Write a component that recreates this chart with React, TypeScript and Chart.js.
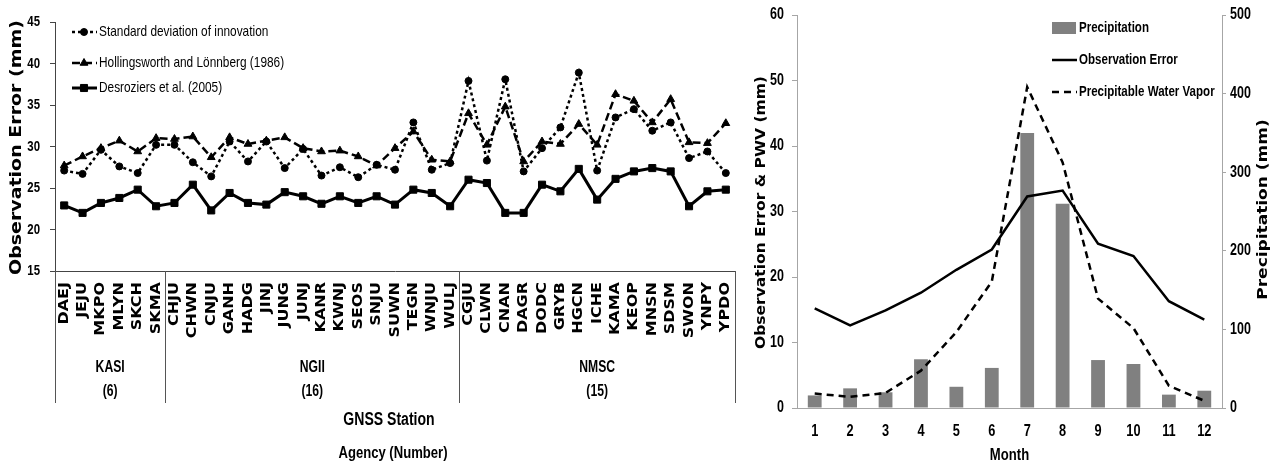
import React, { useEffect, useRef } from 'react';
import { Chart, registerables } from 'chart.js';

Chart.register(...registerables);

// ---------- Left chart data ----------
const stations = [
  'DAEJ', 'JEJU', 'MKPO', 'MLYN', 'SKCH', 'SKMA',
  'CHJU', 'CHWN', 'CNJU', 'GANH', 'HADG', 'JINJ', 'JUNG', 'JUNJ', 'KANR', 'KWNJ', 'SEOS', 'SNJU', 'SUWN', 'TEGN', 'WNJU', 'WULJ',
  'CGJU', 'CLWN', 'CNAN', 'DAGR', 'DODC', 'GRYB', 'HGCN', 'ICHE', 'KAMA', 'KEOP', 'MNSN', 'SDSM', 'SWON', 'YNPY', 'YPDO',
];
const groupNames = ['KASI', 'NGII', 'NMSC'];
const groupCounts = [6, 16, 15];
const stdInnovation = [
  27.1, 26.7, 29.6, 27.6, 26.8, 30.2,
  30.2, 28.1, 26.4, 30.6, 28.2, 30.6, 27.4, 29.7, 26.5, 27.5, 26.3, 27.8, 27.2, 32.9, 27.2, 28.0,
  37.9, 28.3, 38.1, 27.0, 29.8, 32.3, 38.9, 27.1, 33.5, 34.5, 31.9, 32.9, 28.6, 29.4, 26.8,
];
const hollingsworth = [
  27.7, 28.8, 29.8, 30.7, 29.4, 31.0,
  30.9, 31.2, 28.7, 31.1, 30.3, 30.7, 31.1, 29.8, 29.4, 29.5, 28.8, 27.7, 29.8, 31.8, 28.4, 28.2,
  34.0, 30.2, 34.8, 28.2, 30.6, 30.3, 32.7, 30.2, 36.3, 35.5, 32.9, 35.7, 30.5, 30.4, 32.8,
];
const desroziers = [
  22.9, 22.0, 23.2, 23.8, 24.8, 22.8,
  23.2, 25.4, 22.3, 24.4, 23.2, 23.0, 24.5, 24.0, 23.1, 24.0, 23.2, 24.0, 23.0, 24.8, 24.4, 22.8,
  26.0, 25.6, 22.0, 22.0, 25.4, 24.6, 27.3, 23.6, 26.1, 27.0, 27.4, 27.0, 22.8, 24.6, 24.8,
];
const leftSeriesNames = ['Standard deviation of innovation', 'Hollingsworth and Lönnberg (1986)', 'Desroziers et al. (2005)'];

// ---------- Right chart data ----------
const months = ['1', '2', '3', '4', '5', '6', '7', '8', '9', '10', '11', '12'];
const precipitation = [16, 25, 20, 62, 27, 51, 350, 260, 61, 56, 17, 22];
const observationError = [15.2, 12.6, 14.9, 17.6, 21.1, 24.2, 32.3, 33.2, 25.1, 23.2, 16.3, 13.5];
const pwv = [2.2, 1.7, 2.3, 5.7, 11.6, 19.3, 49.0, 37.5, 16.7, 12.2, 3.4, 1.1];

const ARIAL = '"Liberation Sans", Arial, sans-serif';
const WIDE = '"DejaVu Sans", Verdana, sans-serif';

function drawMarker(ctx: CanvasRenderingContext2D, style: string, x: number, y: number, r: number) {
  ctx.beginPath();
  if (style === 'circle') {
    ctx.arc(x, y, r, 0, Math.PI * 2);
  } else if (style === 'triangle') {
    let rad = 0;
    ctx.moveTo(x + Math.sin(rad) * r, y - Math.cos(rad) * r);
    rad += (Math.PI * 2) / 3;
    ctx.lineTo(x + Math.sin(rad) * r, y - Math.cos(rad) * r);
    rad += (Math.PI * 2) / 3;
    ctx.lineTo(x + Math.sin(rad) * r, y - Math.cos(rad) * r);
    ctx.closePath();
  } else {
    const s = r * Math.SQRT1_2;
    ctx.rect(x - s, y - s, 2 * s, 2 * s);
  }
  ctx.fill();
  ctx.stroke();
}

function rotatedText(ctx: CanvasRenderingContext2D, text: string, x: number, y: number, font: string, squeeze: number, align: CanvasTextAlign = 'center') {
  ctx.save();
  ctx.translate(x, y);
  ctx.rotate(-Math.PI / 2);
  ctx.scale(1, squeeze);
  ctx.font = font;
  ctx.textAlign = align;
  ctx.textBaseline = 'middle';
  ctx.fillText(text, 0, 0);
  ctx.restore();
}

function narrowText(ctx: CanvasRenderingContext2D, text: string, x: number, y: number, font: string, align: CanvasTextAlign = 'center', squeeze = 0.82) {
  ctx.save();
  ctx.translate(x, y);
  ctx.scale(squeeze, 1);
  ctx.font = font;
  ctx.textAlign = align;
  ctx.textBaseline = 'middle';
  ctx.fillStyle = '#000';
  ctx.fillText(text, 0, 0);
  ctx.restore();
}

// tick labels drawn from the scale's own ticks, in a condensed face
function drawYTicks(ctx: CanvasRenderingContext2D, scale: any, x: number, align: CanvasTextAlign, font: string, squeeze: number) {
  scale.ticks.forEach((t: any) => {
    narrowText(ctx, String(t.label), x, scale.getPixelForValue(t.value), font, align, squeeze);
  });
}

const leftDecor = {
  id: 'leftDecor',
  afterDraw(chart: any) {
    const { ctx, chartArea } = chart;
    const xs = chart.scales.x;
    const step = xs.getPixelForValue(1) - xs.getPixelForValue(0);
    ctx.save();
    ctx.fillStyle = '#000';
    drawYTicks(ctx, chart.scales.y, chartArea.left - 15, 'right', `bold 15px ${ARIAL}`, 0.76);
    // station labels
    stations.forEach((s, i) => {
      rotatedText(ctx, s, xs.getPixelForValue(i), chartArea.bottom + 11, `bold 16px ${WIDE}`, 0.85, 'right');
    });
    // group dividers & labels
    ctx.strokeStyle = '#555';
    ctx.lineWidth = 1;
    const bottomY = chartArea.bottom + 132;
    const drawV = (px: number) => {
      const xx = Math.round(px) + 0.5;
      ctx.beginPath();
      ctx.moveTo(xx, chartArea.bottom);
      ctx.lineTo(xx, bottomY);
      ctx.stroke();
    };
    drawV(xs.getPixelForValue(0) - step / 2);
    let start = 0;
    groupNames.forEach((g, k) => {
      const end = start + groupCounts[k];
      const left = xs.getPixelForValue(start) - step / 2;
      const right = xs.getPixelForValue(end - 1) + step / 2;
      drawV(right);
      const cx = (left + right) / 2;
      narrowText(ctx, g, cx, chartArea.bottom + 97, `bold 16px ${ARIAL}`, 'center', 0.76);
      narrowText(ctx, `(${groupCounts[k]})`, cx, chartArea.bottom + 121, `bold 16px ${ARIAL}`, 'center', 0.76);
      start = end;
    });
    // axis titles
    narrowText(ctx, 'GNSS Station', 389, 420, `bold 18px ${ARIAL}`, 'center', 0.78);
    narrowText(ctx, 'Agency (Number)', 393, 453, `bold 17px ${ARIAL}`, 'center', 0.77);
    ctx.fillStyle = '#000';
    rotatedText(ctx, 'Observation Error (mm)', 17, (chartArea.top + chartArea.bottom) / 2 + 1, `bold 19px ${WIDE}`, 0.8);
    // legend
    const rows = [32, 63, 88];
    chart.data.datasets.forEach((ds: any, k: number) => {
      const y = rows[k];
      ctx.save();
      ctx.strokeStyle = '#000';
      ctx.lineWidth = ds.borderWidth;
      ctx.setLineDash(ds.borderDash || []);
      ctx.beginPath();
      ctx.moveTo(72, y);
      ctx.lineTo(97, y);
      ctx.stroke();
      ctx.setLineDash([]);
      ctx.fillStyle = '#000';
      ctx.lineWidth = 1;
      drawMarker(ctx, ds.pointStyle, 84, y, ds.pointRadius);
      ctx.restore();
      narrowText(ctx, ds.label, 99, y, `15px ${ARIAL}`, 'left', 0.79);
    });
    ctx.restore();
  },
};

const rightDecor = {
  id: 'rightDecor',
  afterDraw(chart: any) {
    const { ctx, chartArea } = chart;
    const cy = (chartArea.top + chartArea.bottom) / 2;
    ctx.save();
    ctx.fillStyle = '#000';
    const tf = `bold 16px ${ARIAL}`;
    drawYTicks(ctx, chart.scales.y, chartArea.left - 13, 'right', tf, 0.78);
    drawYTicks(ctx, chart.scales.y1, chartArea.right + 8, 'left', tf, 0.78);
    const xs = chart.scales.x;
    xs.ticks.forEach((t: any, i: number) => {
      narrowText(ctx, String(t.label), xs.getPixelForValue(i), chartArea.bottom + 23, `bold 17px ${ARIAL}`, 'center', 0.75);
    });
    narrowText(ctx, 'Month', (chartArea.left + chartArea.right) / 2, 455, `bold 17px ${ARIAL}`, 'center', 0.77);
    ctx.fillStyle = '#000';
    rotatedText(ctx, 'Observation Error & PWV (mm)', 22, cy + 1, `bold 15.5px ${WIDE}`, 0.85);
    rotatedText(ctx, 'Precipitation (mm)', 523, cy - 2, `bold 17px ${WIDE}`, 0.82);
    // legend
    const order = ['Precipitation', 'Observation Error', 'Precipitable Water Vapor'];
    const rows = [28, 60, 92];
    order.forEach((name, k) => {
      const ds = chart.data.datasets.find((d: any) => d.label === name);
      const y = rows[k];
      if (ds.type === 'bar') {
        ctx.fillStyle = ds.backgroundColor;
        ctx.fillRect(312, y - 6, 24, 12);
      } else {
        ctx.save();
        ctx.strokeStyle = ds.borderColor;
        ctx.lineWidth = ds.borderWidth;
        ctx.setLineDash(ds.borderDash || []);
        ctx.beginPath();
        ctx.moveTo(312, y);
        ctx.lineTo(337, y);
        ctx.stroke();
        ctx.restore();
      }
      narrowText(ctx, name, 339, y, `bold 15px ${ARIAL}`, 'left', 0.77);
    });
    ctx.restore();
  },
};

export default function App() {
  const leftRef = useRef<HTMLCanvasElement>(null);
  const rightRef = useRef<HTMLCanvasElement>(null);

  useEffect(() => {
    const left = new Chart(leftRef.current as HTMLCanvasElement, {
      type: 'line',
      data: {
        labels: stations,
        datasets: [
          {
            label: leftSeriesNames[0], data: stdInnovation, borderColor: '#000', backgroundColor: '#000',
            borderWidth: 2.5, borderDash: [3, 3], pointStyle: 'circle', pointRadius: 3.5,
            pointBackgroundColor: '#000', pointBorderColor: '#000', pointBorderWidth: 1, tension: 0,
          },
          {
            label: leftSeriesNames[1], data: hollingsworth, borderColor: '#000', backgroundColor: '#000',
            borderWidth: 2.5, borderDash: [8, 4], pointStyle: 'triangle', pointRadius: 4.5,
            pointBackgroundColor: '#000', pointBorderColor: '#000', pointBorderWidth: 1, tension: 0,
          },
          {
            label: leftSeriesNames[2], data: desroziers, borderColor: '#000', backgroundColor: '#000',
            borderWidth: 3, pointStyle: 'rect', pointRadius: 5,
            pointBackgroundColor: '#000', pointBorderColor: '#000', pointBorderWidth: 1, tension: 0,
          },
        ],
      } as any,
      options: {
        responsive: false,
        animation: false,
        layout: { padding: { top: 22, right: 10, left: 0, bottom: 0 } },
        plugins: { legend: { display: false }, tooltip: { enabled: false } },
        scales: {
          x: {
            type: 'category', offset: true,
            grid: { display: false, drawTicks: false },
            border: { display: true, color: '#444', width: 1 },
            ticks: { display: false },
            afterFit: (s: any) => { s.height = 195; },
          },
          y: {
            min: 15, max: 45,
            ticks: { stepSize: 5, display: false },
            grid: { display: true, drawOnChartArea: false, drawTicks: true, tickLength: 5, color: '#444' },
            border: { display: true, color: '#444', width: 1 },
            afterFit: (s: any) => { s.width = 55; },
          },
        },
      } as any,
      plugins: [leftDecor],
    });

    const right = new Chart(rightRef.current as HTMLCanvasElement, {
      type: 'bar',
      data: {
        labels: months,
        datasets: [
          {
            type: 'line', label: 'Observation Error', data: observationError, yAxisID: 'y',
            borderColor: '#000', borderWidth: 2.5, pointRadius: 0, tension: 0, order: 0,
          },
          {
            type: 'line', label: 'Precipitable Water Vapor', data: pwv, yAxisID: 'y',
            borderColor: '#000', borderWidth: 2.5, borderDash: [7, 5], pointRadius: 0, tension: 0, order: 0,
          },
          {
            type: 'bar', label: 'Precipitation', data: precipitation, yAxisID: 'y1',
            backgroundColor: '#808080', barPercentage: 0.39, categoryPercentage: 1, order: 1,
          },
        ],
      } as any,
      options: {
        responsive: false,
        animation: false,
        layout: { padding: { top: 15, right: 0, left: 0, bottom: 0 } },
        plugins: { legend: { display: false }, tooltip: { enabled: false } },
        scales: {
          x: {
            offset: true,
            grid: { display: false, drawTicks: false },
            border: { display: true, color: '#a6a6a6', width: 1 },
            ticks: { display: false },
            afterFit: (s: any) => { s.height = 58; },
          },
          y: {
            position: 'left', min: 0, max: 60,
            ticks: { stepSize: 10, display: false },
            grid: { display: true, drawOnChartArea: false, drawTicks: true, tickLength: 5, color: '#a6a6a6' },
            border: { display: true, color: '#a6a6a6', width: 1 },
            afterFit: (s: any) => { s.width = 57; },
          },
          y1: {
            position: 'right', min: 0, max: 500,
            ticks: { stepSize: 100, display: false },
            grid: { display: true, drawOnChartArea: false, drawTicks: true, tickLength: 4, color: '#a6a6a6' },
            border: { display: true, color: '#a6a6a6', width: 1 },
            afterFit: (s: any) => { s.width = 53; },
          },
        },
      } as any,
      plugins: [rightDecor],
    });

    return () => {
      left.destroy();
      right.destroy();
    };
  }, []);

  return (
    <div style={{ position: 'absolute', left: 0, top: 0, width: 1275, height: 466, background: '#fff', overflow: 'hidden' }}>
      <canvas ref={leftRef} width={745} height={466} style={{ position: 'absolute', left: 0, top: 0, width: 745, height: 466 }} />
      <canvas ref={rightRef} width={535} height={466} style={{ position: 'absolute', left: 740, top: 0, width: 535, height: 466 }} />
    </div>
  );
}
